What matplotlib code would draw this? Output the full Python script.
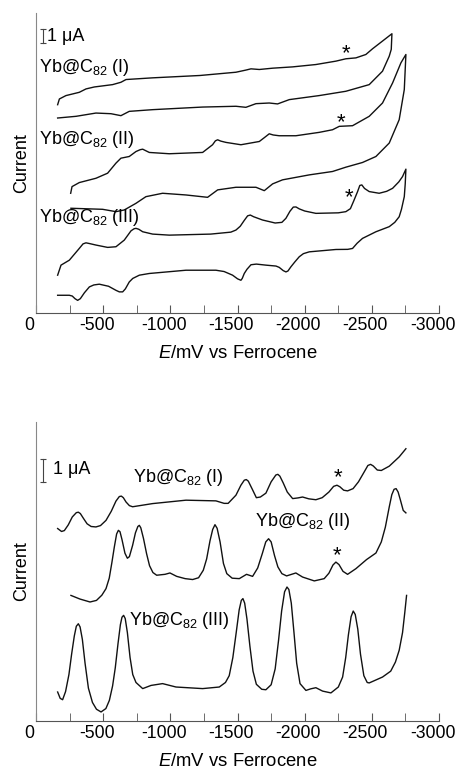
import numpy as np
import matplotlib
matplotlib.use("Agg")
import matplotlib.pyplot as plt
import matplotlib.transforms as mtransforms

plt.rcParams['font.family'] = ['Liberation Sans', 'DejaVu Sans']
plt.rcParams['mathtext.fontset'] = 'custom'
plt.rcParams['mathtext.rm'] = 'Liberation Sans'
plt.rcParams['mathtext.it'] = 'Liberation Sans:italic'
plt.rcParams['mathtext.default'] = 'regular'
plt.rcParams['axes.unicode_minus'] = False

# ---- cyclic voltammograms (E in mV vs Fc, I in uA, offset per trace) ----
cv1_E = [-161, -174, -223, -322, -372, -434, -570, -632, -670, -868, -1220, -1488, -1560, -1600,
         -1662, -1761, -1910, -2083, -2232, -2306, -2381, -2455, -2505, -2579, -2649,
         -2644, -2629, -2579, -2480, -2306, -2108, -1885, -1798, -1736, -1637, -1562,
         -1488, -1240, -868, -694, -632, -558, -446, -298, -161]
cv1_I = [15.97, 16.41, 16.67, 16.92, 17.18, 17.33, 17.51, 17.69, 17.90, 18.03, 18.21, 18.46, 18.62, 18.72,
         18.67, 18.77, 18.87, 19.05, 19.31, 19.49, 19.56, 19.82, 20.26, 20.85, 21.41,
         20.21, 19.69, 18.54, 17.51, 17.00, 16.67, 16.36, 16.03, 16.10, 16.05, 15.77,
         15.85, 15.79, 15.59, 15.46, 15.13, 15.28, 15.33, 15.08, 14.95]

cv2_E = [-258, -268, -322, -446, -533, -595, -632, -694, -744, -775, -794, -843, -992, -1240,
         -1314, -1335, -1352, -1375, -1414, -1525, -1662, -1700, -1736, -1765, -1810, -1934,
         -2108, -2207, -2257, -2356, -2480, -2579, -2654, -2716, -2753,
         -2741, -2703, -2629, -2530, -2430, -2306, -2207, -2034, -1835, -1761, -1699,
         -1637, -1488, -1352, -1277, -1116, -942, -818, -744, -657, -595, -496, -260]
cv2_I = [9.18, 9.69, 10.00, 10.33, 10.72, 11.49, 11.87, 12.00, 12.38, 12.52, 12.56, 12.31, 12.21, 12.31,
         12.90, 13.20, 13.28, 13.18, 13.08, 12.90, 13.15, 13.45, 13.74, 13.65, 13.59, 13.59,
         13.85, 14.05, 14.31, 14.36, 15.08, 16.10, 17.64, 19.18, 19.82,
         17.13, 14.82, 13.03, 12.00, 11.54, 11.18, 10.85, 10.59, 10.21, 9.90, 9.38,
         9.64, 9.64, 9.44, 8.87, 9.05, 9.18, 8.92, 8.41, 7.90, 7.77, 7.95, 8.03]

cv3_E = [-161, -186, -248, -322, -350, -372, -400, -446, -533, -595, -657, -707, -730, -744,
         -765, -794, -868, -992, -1300, -1450, -1488, -1520, -1550, -1575, -1595, -1620,
         -1686, -1780, -1830, -1860, -1890, -1915, -1935, -1960, -2000, -2083, -2250,
         -2306, -2340, -2365, -2393, -2410, -2425, -2445, -2480, -2554, -2610, -2654,
         -2700, -2728, -2753,
         -2748, -2741, -2720, -2703, -2670, -2629, -2530, -2430, -2390, -2356, -2320,
         -2232, -2034, -1990, -1959, -1925, -1897, -1875, -1860, -1840, -1810, -1786,
         -1711, -1640, -1600, -1570, -1550, -1535, -1525, -1500, -1463, -1400, -1339,
         -1116, -843, -769, -720, -694, -665, -645, -620, -595, -540, -471, -430, -397,
         -360, -330, -310, -290, -270, -248, -161]
cv3_I = [2.90, 3.67, 4.05, 4.95, 5.30, 5.38, 5.32, 5.21, 5.03, 5.08, 5.59, 6.30, 6.46, 6.49,
         6.42, 6.23, 6.05, 5.97, 6.05, 6.20, 6.36, 6.65, 7.10, 7.45, 7.51, 7.38,
         7.13, 6.90, 6.95, 7.26, 7.80, 8.12, 8.13, 7.98, 7.82, 7.64, 7.68,
         7.77, 8.00, 8.60, 9.30, 9.78, 9.82, 9.55, 9.31, 9.18, 9.33, 9.56,
         10.05, 10.46, 11.03,
         9.90, 8.92, 7.95, 7.38, 6.95, 6.62, 6.23, 5.72, 5.35, 4.95, 4.88,
         4.87, 4.69, 4.55, 4.31, 3.90, 3.54, 3.22, 3.15, 3.25, 3.50, 3.60,
         3.67, 3.75, 3.70, 3.35, 3.03, 2.65, 2.51, 2.62, 2.90, 3.18, 3.28,
         3.28, 3.03, 2.90, 2.65, 2.38, 1.85, 1.62, 1.62, 1.74, 2.05, 2.21, 2.15, 2.00,
         1.55, 1.10, 0.97, 1.10, 1.30, 1.36, 1.36]

# ---- differential pulse voltammograms ----
dpv1_E = [-161, -190, -211, -240, -270, -300, -315, -330, -355, -380, -410, -446, -480,
          -521, -560, -595, -620, -635, -650, -670, -695, -719, -868, -1116, -1339, -1400,
          -1430, -1488, -1525, -1550, -1565, -1580, -1610, -1640, -1670, -1711, -1750,
          -1785, -1800, -1815, -1840, -1870, -1910, -1950, -1984, -2030, -2083, -2130,
          -2180, -2215, -2240, -2262, -2290, -2319, -2360, -2400, -2443, -2470, -2490,
          -2510, -2540, -2570, -2629, -2703, -2753]
dpv1_I = [8.49, 8.36, 8.40, 8.65, 9.00, 9.19, 9.21, 9.15, 8.92, 8.70, 8.58, 8.56, 8.62,
          8.85, 9.25, 9.70, 9.90, 9.92, 9.85, 9.66, 9.50, 9.45, 9.59, 9.74, 9.71, 9.60,
          9.60, 9.96, 10.40, 10.62, 10.65, 10.58, 10.22, 9.85, 9.88, 10.05, 10.55,
          10.85, 10.88, 10.80, 10.50, 10.10, 9.81, 9.84, 9.88, 9.80, 9.76, 9.85,
          10.10, 10.35, 10.40, 10.33, 10.18, 10.15, 10.25, 10.55, 10.99, 11.27, 11.32,
          11.25, 11.07, 11.05, 11.24, 11.65, 12.01]

dpv2_E = [-260, -327, -402, -450, -490, -521, -545, -565, -583, -600, -613, -625, -640,
          -662, -680, -695, -719, -740, -758, -769, -780, -800, -823, -845, -870, -898,
          -960, -997, -1047, -1110, -1166, -1210, -1245, -1270, -1295, -1315, -1332,
          -1348, -1370, -1395, -1420, -1460, -1513, -1567, -1612, -1650, -1685, -1710,
          -1731, -1750, -1775, -1800, -1830, -1865, -1934, -1984, -2071, -2145, -2180,
          -2210, -2232, -2255, -2285, -2319, -2381, -2460, -2530, -2570, -2600, -2629,
          -2648, -2665, -2680, -2695, -2712, -2733, -2753]
dpv2_I = [5.54, 5.38, 5.25, 5.32, 5.55, 5.84, 6.30, 7.00, 7.68, 8.25, 8.41, 8.35, 8.00,
          7.40, 7.18, 7.25, 7.75, 8.30, 8.58, 8.63, 8.52, 8.05, 7.38, 6.85, 6.55, 6.43,
          6.47, 6.53, 6.38, 6.28, 6.24, 6.32, 6.65, 7.15, 7.95, 8.45, 8.66,
          8.50, 7.90, 6.95, 6.50, 6.30, 6.28, 6.47, 6.38, 6.75, 7.40, 7.90,
          8.04, 7.90, 7.30, 6.80, 6.50, 6.40, 6.53, 6.35, 6.18, 6.28, 6.52,
          6.88, 7.01, 6.90, 6.60, 6.47, 6.72, 7.12, 7.41, 7.90, 8.55, 9.44,
          9.98, 10.22, 10.25, 10.10, 9.75, 9.29, 9.18]

dpv3_E = [-161, -180, -198, -220, -245, -265, -285, -300, -315, -328, -345, -365, -390,
          -420, -450, -484, -520, -546, -570, -590, -610, -628, -640, -652, -664, -680,
          -700, -720, -744, -794, -856, -942, -1042, -1240, -1364, -1410, -1438, -1465,
          -1490, -1512, -1528, -1540, -1553, -1570, -1592, -1615, -1640, -1680, -1711,
          -1750, -1780, -1805, -1828, -1850, -1868, -1882, -1900, -1920, -1940, -1965,
          -2009, -2045, -2083, -2133, -2195, -2250, -2282, -2305, -2325, -2345, -2361,
          -2376, -2395, -2415, -2440, -2465, -2480, -2579, -2640, -2675, -2703, -2728,
          -2745, -2758]
dpv3_I = [1.28, 1.00, 0.94, 1.30, 2.05, 2.95, 3.75, 4.18, 4.29, 4.15, 3.60, 2.55, 1.45,
          0.82, 0.52, 0.40, 0.55, 0.91, 1.55, 2.35, 3.40, 4.25, 4.58, 4.66, 4.52, 3.90,
          2.80, 2.05, 1.70, 1.43, 1.57, 1.65, 1.50, 1.43, 1.50, 1.70, 2.00, 2.80,
          3.90, 4.90, 5.32, 5.40, 5.20, 4.50, 3.30, 2.20, 1.62, 1.40, 1.38,
          1.60, 2.30, 3.55, 4.85, 5.70, 5.91, 5.80, 5.20, 3.90, 2.55, 1.65,
          1.35, 1.42, 1.47, 1.32, 1.24, 1.50, 1.94, 2.80, 3.80, 4.60, 4.85,
          4.70, 4.05, 2.95, 2.00, 1.70, 1.68, 1.94, 2.20, 2.60, 3.12, 3.90,
          4.80, 5.54]

labels = ["Yb@C$_{82}$ (I)", "Yb@C$_{82}$ (II)", "Yb@C$_{82}$ (III)"]
xticks = [0, -500, -1000, -1500, -2000, -2500, -3000]

fig = plt.figure(figsize=(4.57, 7.70), dpi=100)
ax1 = fig.add_axes([0.0788, 0.5935, 0.882, 0.3896])
ax2 = fig.add_axes([0.0788, 0.0636, 0.882, 0.3884])

# tick labels in the original sit a little left of their ticks
shift = mtransforms.ScaledTranslation(-6.5 / 100, 0, fig.dpi_scale_trans)


def style_axis(ax, ymax):
    ax.set_xlim(0, -3000)
    ax.set_ylim(0, ymax)
    ax.spines['top'].set_visible(False)
    ax.spines['right'].set_visible(False)
    ax.spines['left'].set_color('#888888')
    ax.spines['bottom'].set_color('#555555')
    ax.set_yticks([])
    ax.set_xticks(xticks)
    ax.set_xticklabels([str(t) for t in xticks])
    ax.set_xticks(np.arange(-250, -3000, -500), minor=True)
    ax.tick_params(axis='x', which='both', direction='in', length=6, color='#555555',
                   labelsize=12.7, pad=3)
    for lab in ax.get_xticklabels():
        lab.set_transform(lab.get_transform() + shift)
    ax.set_ylabel("Current", fontsize=13, labelpad=4)
    ax.set_xlabel("$\\mathit{E}$/mV vs Ferrocene", fontsize=13.3, labelpad=8)


def scale_bar(ax, x, y0, y1, tx, ty):
    ax.plot([x, x], [y0, y1], color='#444444', lw=0.8)
    ax.plot([x, x], [y0, y1], color='#444444', marker='_', ms=5, mew=0.8, ls='none')
    ax.text(tx, ty, "1 \u03bcA", fontsize=13, va='center', ha='left')


# top panel: CV
for E, I in [(cv1_E, cv1_I), (cv2_E, cv2_I), (cv3_E, cv3_I)]:
    ax1.plot(E, I, color='#111111', lw=1.0)
style_axis(ax1, 23.0)
scale_bar(ax1, -50, 20.72, 21.74, -85, 21.2)
ax1.text(-25, 18.85, labels[0], fontsize=13, va='center')
ax1.text(-25, 13.3, labels[1], fontsize=13, va='center')
ax1.text(-25, 7.3, labels[2], fontsize=13, va='center')
ax1.text(-2311, 19.9, "*", fontsize=16, ha='center', va='center')
ax1.text(-2268, 14.6, "*", fontsize=16, ha='center', va='center')
ax1.text(-2331, 8.85, "*", fontsize=16, ha='center', va='center')

# bottom panel: DPV
for E, I in [(dpv1_E, dpv1_I), (dpv2_E, dpv2_I), (dpv3_E, dpv3_I)]:
    ax2.plot(E, I, color='#111111', lw=1.0)
style_axis(ax2, 13.19)
scale_bar(ax2, -55, 10.54, 11.54, -125, 11.1)
ax2.text(-724, 10.76, labels[0], fontsize=13, va='center')
ax2.text(-1629, 8.78, labels[1], fontsize=13, va='center')
ax2.text(-694, 4.44, labels[2], fontsize=13, va='center')
ax2.text(-2249, 10.75, "*", fontsize=16, ha='center', va='center')
ax2.text(-2237, 7.3, "*", fontsize=16, ha='center', va='center')

fig.savefig("out.png", dpi=100)
